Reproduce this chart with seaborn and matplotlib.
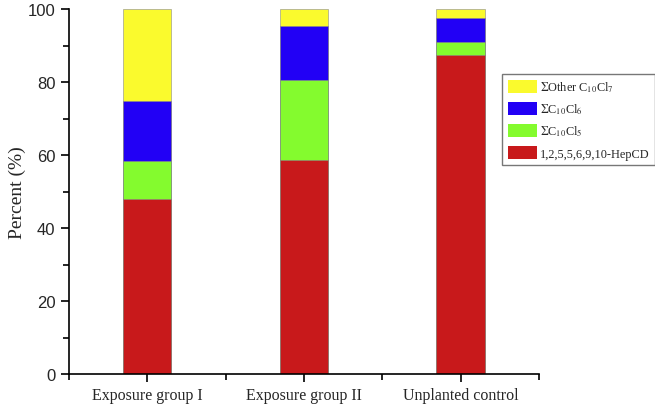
import matplotlib
matplotlib.use("Agg")
import matplotlib.pyplot as plt
import seaborn as sns
import pandas as pd
from matplotlib.ticker import MultipleLocator, FixedLocator
from matplotlib.patches import Patch

# Data (percent composition)
groups = ["Exposure group I", "Exposure group II", "Unplanted control"]
hepcd = [47.9, 58.7, 87.4]
c10cl5 = [10.5, 21.8, 3.5]
c10cl6 = [16.3, 14.9, 6.6]
other_c10cl7 = [25.3, 4.6, 2.5]

series_names = ["1,2,5,5,6,9,10-HepCD", r"$\Sigma$C$_{10}$Cl$_5$",
                r"$\Sigma$C$_{10}$Cl$_6$", r"$\Sigma$Other C$_{10}$Cl$_7$"]
colors = ["#C8191B", "#84FB2E", "#2200F5", "#FAFA2D"]

sns.set_style("ticks")
plt.rcParams["mathtext.fontset"] = "stix"

fig = plt.figure(figsize=(6.55, 4.06), dpi=100)
ax = fig.add_axes([0.105, 0.076, 0.718, 0.899])

# cumulative heights, drawn tallest first so the stack shows through
series = [hepcd, c10cl5, c10cl6, other_c10cl7]
cum = []
running = [0, 0, 0]
for s in series:
    running = [r + v for r, v in zip(running, s)]
    cum.append(running)

for i in range(len(series) - 1, -1, -1):
    df = pd.DataFrame({"group": groups, "value": cum[i]})
    sns.barplot(data=df, x="group", y="value", color=colors[i], width=0.31,
                saturation=1, edgecolor="#8a8a8a", linewidth=0.4, ax=ax)

ax.set_xlim(-0.5, 2.5)
ax.set_ylim(0, 100)
ax.yaxis.set_major_locator(MultipleLocator(20))
ax.yaxis.set_minor_locator(MultipleLocator(10))
ax.xaxis.set_minor_locator(FixedLocator([-0.5, 0.5, 1.5, 2.5]))
ax.tick_params(axis="both", which="major", direction="out", length=6, width=1.2, color="black")
ax.tick_params(axis="both", which="minor", direction="out", length=4, width=1.2, color="black")
sns.despine(ax=ax)
for sp in ["left", "bottom"]:
    ax.spines[sp].set_color("black")
    ax.spines[sp].set_linewidth(1.2)

for lab in ax.get_yticklabels():
    lab.set_family("Liberation Sans")
    lab.set_fontsize(12)
for lab in ax.get_xticklabels():
    lab.set_family("Liberation Serif")
    lab.set_fontsize(11.5)

ax.set_xlabel("")
ax.set_ylabel("Percent (%)", family="Liberation Serif", fontsize=14, labelpad=1)

handles = [Patch(facecolor=colors[i], edgecolor="none", label=series_names[i])
           for i in range(3, -1, -1)]
leg = ax.legend(handles=handles, loc="upper left", bbox_to_anchor=(0.767, 0.815),
                bbox_transform=fig.transFigure, frameon=True, fancybox=False,
                prop={"family": "Liberation Serif", "size": 8.8},
                handlelength=2.4, handleheight=1.3, handletextpad=0.2,
                labelspacing=0.62, borderpad=0.45, borderaxespad=0)
leg.get_frame().set_edgecolor("#555555")
leg.get_frame().set_linewidth(1.0)

fig.savefig("out.png", dpi=100)
